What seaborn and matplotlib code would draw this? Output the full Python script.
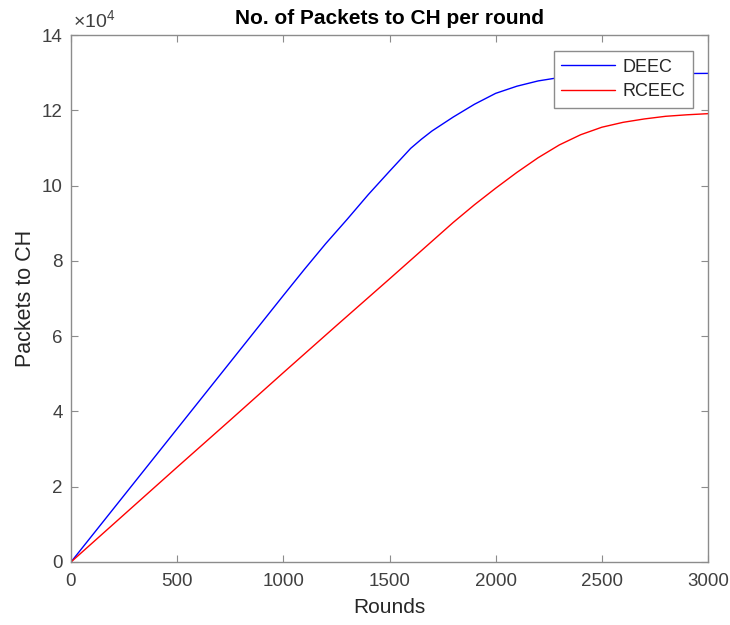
import matplotlib
matplotlib.use("Agg")
import matplotlib.pyplot as plt
import seaborn as sns
import pandas as pd
from matplotlib.ticker import FuncFormatter, MultipleLocator

# ---- data ----
deec_rounds = [0, 250, 500, 750, 1000, 1100, 1200, 1300, 1400, 1500, 1600,
               1650, 1700, 1800, 1900, 2000, 2100, 2200, 2300, 2400, 2500,
               2700, 3000]
deec_packets = [0, 17700, 35400, 53100, 70800, 77800, 84600, 91000, 97600,
                103800, 109900, 112300, 114500, 118200, 121600, 124500,
                126400, 127800, 128700, 129300, 129500, 129700, 129800]

rceec_rounds = [0, 250, 500, 750, 1000, 1250, 1500, 1700, 1800, 1900, 2000,
                2100, 2200, 2300, 2400, 2500, 2600, 2700, 2800, 2900, 3000]
rceec_packets = [0, 12600, 25200, 37700, 50300, 62800, 75200, 85200, 90200,
                 94900, 99300, 103500, 107400, 110800, 113500, 115500,
                 116800, 117700, 118400, 118800, 119100]

title = "No. of Packets to CH per round"
xlabel = "Rounds"
ylabel = "Packets to CH"
series_names = ["DEEC", "RCEEC"]
colors = ["#0000ff", "#ff0000"]

df = pd.concat([
    pd.DataFrame({"Rounds": deec_rounds, "Packets": deec_packets, "Protocol": series_names[0]}),
    pd.DataFrame({"Rounds": rceec_rounds, "Packets": rceec_packets, "Protocol": series_names[1]}),
], ignore_index=True)

sns.set_theme(style="white")
plt.rcParams["font.family"] = ["Liberation Sans", "DejaVu Sans"]
plt.rcParams["mathtext.fontset"] = "custom"
plt.rcParams["mathtext.rm"] = "Liberation Sans"
plt.rcParams["mathtext.it"] = "Liberation Sans:italic"

W, H = 730, 625
fig = plt.figure(figsize=(W / 100, H / 100), dpi=100)
ax = fig.add_axes([71 / W, 63 / H, (708 - 71) / W, (562 - 35) / H])

sns.lineplot(data=df, x="Rounds", y="Packets", hue="Protocol",
             palette=dict(zip(series_names, colors)), linewidth=1.0,
             ax=ax, estimator=None, sort=False)

ax.set_xlim(0, 3000)
ax.set_ylim(0, 140000)
ax.xaxis.set_major_locator(MultipleLocator(500))
ax.yaxis.set_major_locator(MultipleLocator(20000))
ax.yaxis.set_major_formatter(FuncFormatter(lambda v, p: f"{v / 1e4:g}"))

tick_color = "#404040"
spine_color = "#8c8c8c"
for s in ax.spines.values():
    s.set_color(spine_color)
    s.set_linewidth(1.0)
ax.tick_params(direction="in", length=5, width=0.8, color=spine_color,
               labelsize=13.5, labelcolor=tick_color,
               top=True, right=True, bottom=True, left=True)
ax.tick_params(axis="x", pad=8)
ax.tick_params(axis="y", pad=6)

ax.set_xlabel(xlabel, fontsize=15, color="#262626", labelpad=6)
ax.set_ylabel(ylabel, fontsize=15.5, color="#262626", labelpad=4)
ax.set_title(title, fontsize=15, fontweight="bold", color="black", pad=8)

ax.text(0.003, 1.008, r"$\times10^{4}$", transform=ax.transAxes, ha="left",
        va="bottom", fontsize=14, color=tick_color)

leg = ax.legend(loc="upper right", bbox_to_anchor=(693 / W, 1 - 51 / H),
                bbox_transform=fig.transFigure,
                fontsize=13, frameon=True, fancybox=False, shadow=False,
                framealpha=1.0, facecolor="white",
                handlelength=3.0, borderaxespad=0.0, labelspacing=0.42,
                handletextpad=0.4, borderpad=0.42, title=None)
leg.get_frame().set_edgecolor("#8c8c8c")
leg.get_frame().set_linewidth(1.0)
for t in leg.get_texts():
    t.set_color("#262626")
for h in leg.get_lines():
    h.set_linewidth(1.0)

fig.savefig("out.png", dpi=100, facecolor="white")
